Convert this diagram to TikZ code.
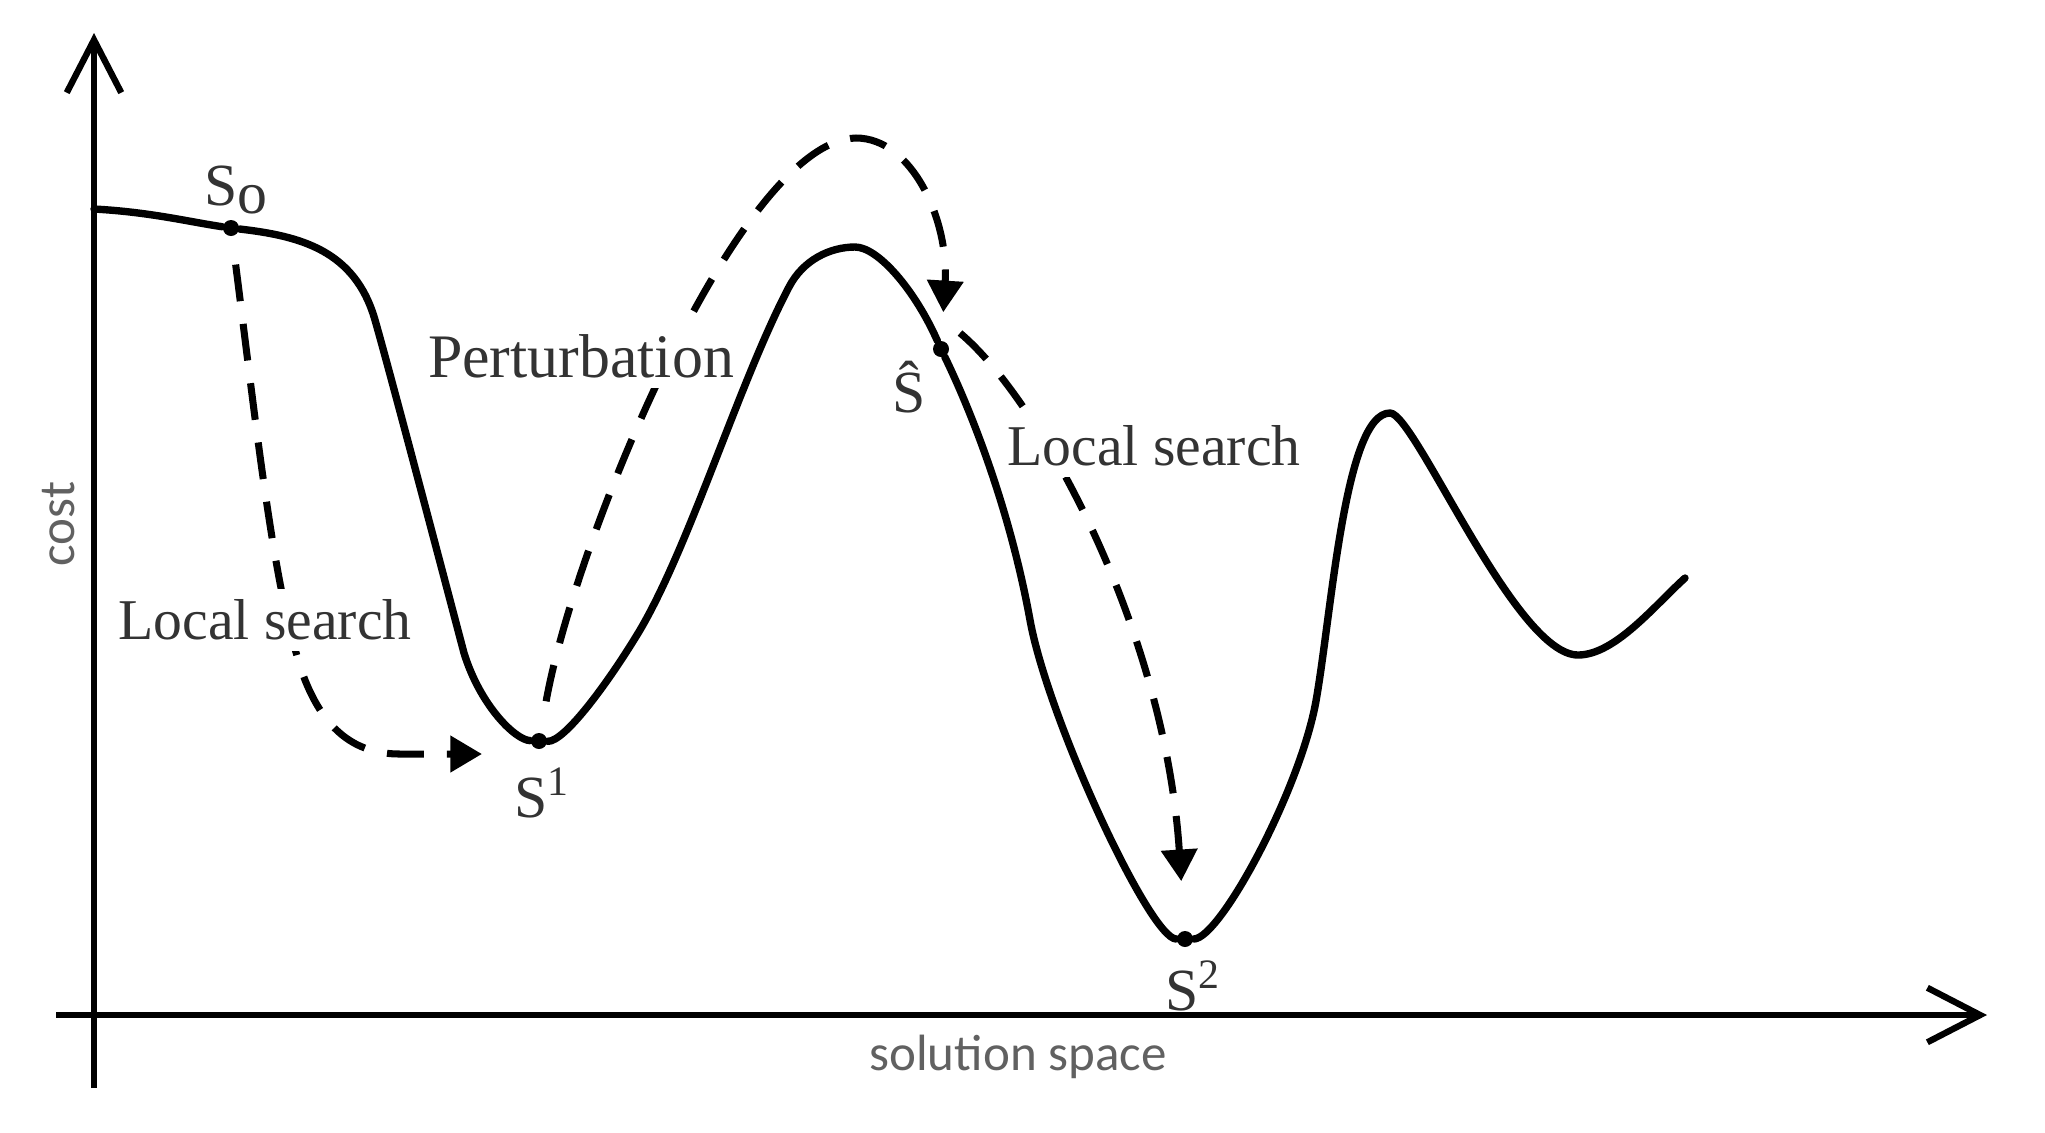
\documentclass[tikz,border=0pt]{standalone}
\usepackage{fontspec}
\setmainfont{Liberation Serif}
\newfontfamily\labsans{Carlito}
\usetikzlibrary{arrows.meta}
\begin{document}
\begin{tikzpicture}[x=0.01cm,y=-0.01cm,
  curve/.style={line width=2.1pt, line join=round, line cap=round},
  dashpath/.style={line width=2pt, dash pattern=on 10.5pt off 6.5pt, -{Triangle[length=9pt,width=10pt]}},
  axis/.style={line width=1.8pt, -{Straight Barb[length=15pt,width=15.5pt,line width=1.8pt]}},
  dotmark/.style={circle, fill=black, inner sep=0pt, minimum size=0.16cm},
  lab/.style={text=black!80, inner sep=1pt},
  serlab/.style={lab, font=\fontsize{17}{17}\selectfont},
  boxlab/.style={text=black!80, fill=white, inner sep=3pt},
  sanslab/.style={text=black!62, inner sep=1pt, font=\labsans\fontsize{14.5}{15}\selectfont}
]
\useasboundingbox (0,0) rectangle (2045,1132);
\fill[white] (0,0) rectangle (2045,1132);

% points on the landscape
\node[dotmark] (S0) at (231,228) {};
\node[dotmark] (S1) at (539,741) {};
\node[dotmark] (Sh) at (941,349) {};
\node[dotmark] (S2) at (1185,939) {};
\coordinate (cstart) at (94,209);
\coordinate (cend) at (1685,578);
\coordinate (ls1end) at (482,754);
\coordinate (ls2a) at (960,333);

% dashed moves
\draw[dashpath, shorten <=8pt] (S0) .. controls (258,440) and (275,600) .. (305,680)
   .. controls (325,730) and (355,754) .. (400,754) -- (ls1end);
\draw[dashpath, shorten <=9pt, shorten >=8pt] (S1) .. controls (575,540) and (740,140) .. (856,138)
   .. controls (912,138) and (949,220) .. (Sh);
\draw[dashpath, shorten >=14pt] (ls2a) .. controls (1040,400) and (1165,630) .. (S2);

% labels with white background
\node[boxlab, font=\fontsize{17.6}{18}\selectfont] (pert) at (581,356) {Perturbation};
\node[boxlab, font=\fontsize{16.4}{17}\selectfont] (lsl) at (265,620) {Local search};
\node[boxlab, font=\fontsize{16.4}{17}\selectfont] (lsr) at (1154,446) {Local search};

% cost landscape
\draw[curve] (cstart) .. controls (150,212) and (190,222) .. (S0)
  .. controls (300,236) and (355,250) .. (375,320)
  .. controls (390,372) and (450,600) .. (464,653)
  .. controls (480,705) and (515,740) .. (S1)
  .. controls (565,742) and (610,680) .. (640,630)
  .. controls (690,545) and (740,380) .. (789,287)
  .. controls (803,260) and (830,247) .. (855,247)
  .. controls (878,247) and (915,290) .. (Sh)
  .. controls (972,413) and (1010,510) .. (1030,620)
  .. controls (1048,719) and (1150,939) .. (S2)
  .. controls (1220,939) and (1300,790) .. (1316,701)
  .. controls (1332,610) and (1345,413) .. (1390,413)
  .. controls (1415,413) and (1515,655) .. (1578,655)
  .. controls (1615,655) and (1655,605) .. (cend);

% dots on top
\fill (S0) circle (0.08);
\fill (S1) circle (0.08);
\fill (Sh) circle (0.08);
\fill (S2) circle (0.08);

% point labels
\node[serlab] (S0l) at (236,190) {S\raisebox{-2.5pt}{o}};
\node[serlab] (Shl) at (909,387) {Ŝ};
\node[serlab] (S1l) at (542,793) {S\textsuperscript{1}};
\node[serlab] (S2l) at (1193,986) {S\textsuperscript{2}};

% axes
\coordinate (ybot) at (94,1088);
\coordinate (ytop) at (94,33);
\coordinate (xleft) at (56,1015);
\coordinate (xright) at (1987,1015);
\draw[axis] (ybot) -- (ytop);
\draw[axis] (xleft) -- (xright);
\node[sanslab, rotate=90] (cost) at (59,524) {cost};
\node[sanslab] (sol) at (1018,1057) {solution space};
\end{tikzpicture}
\end{document}
